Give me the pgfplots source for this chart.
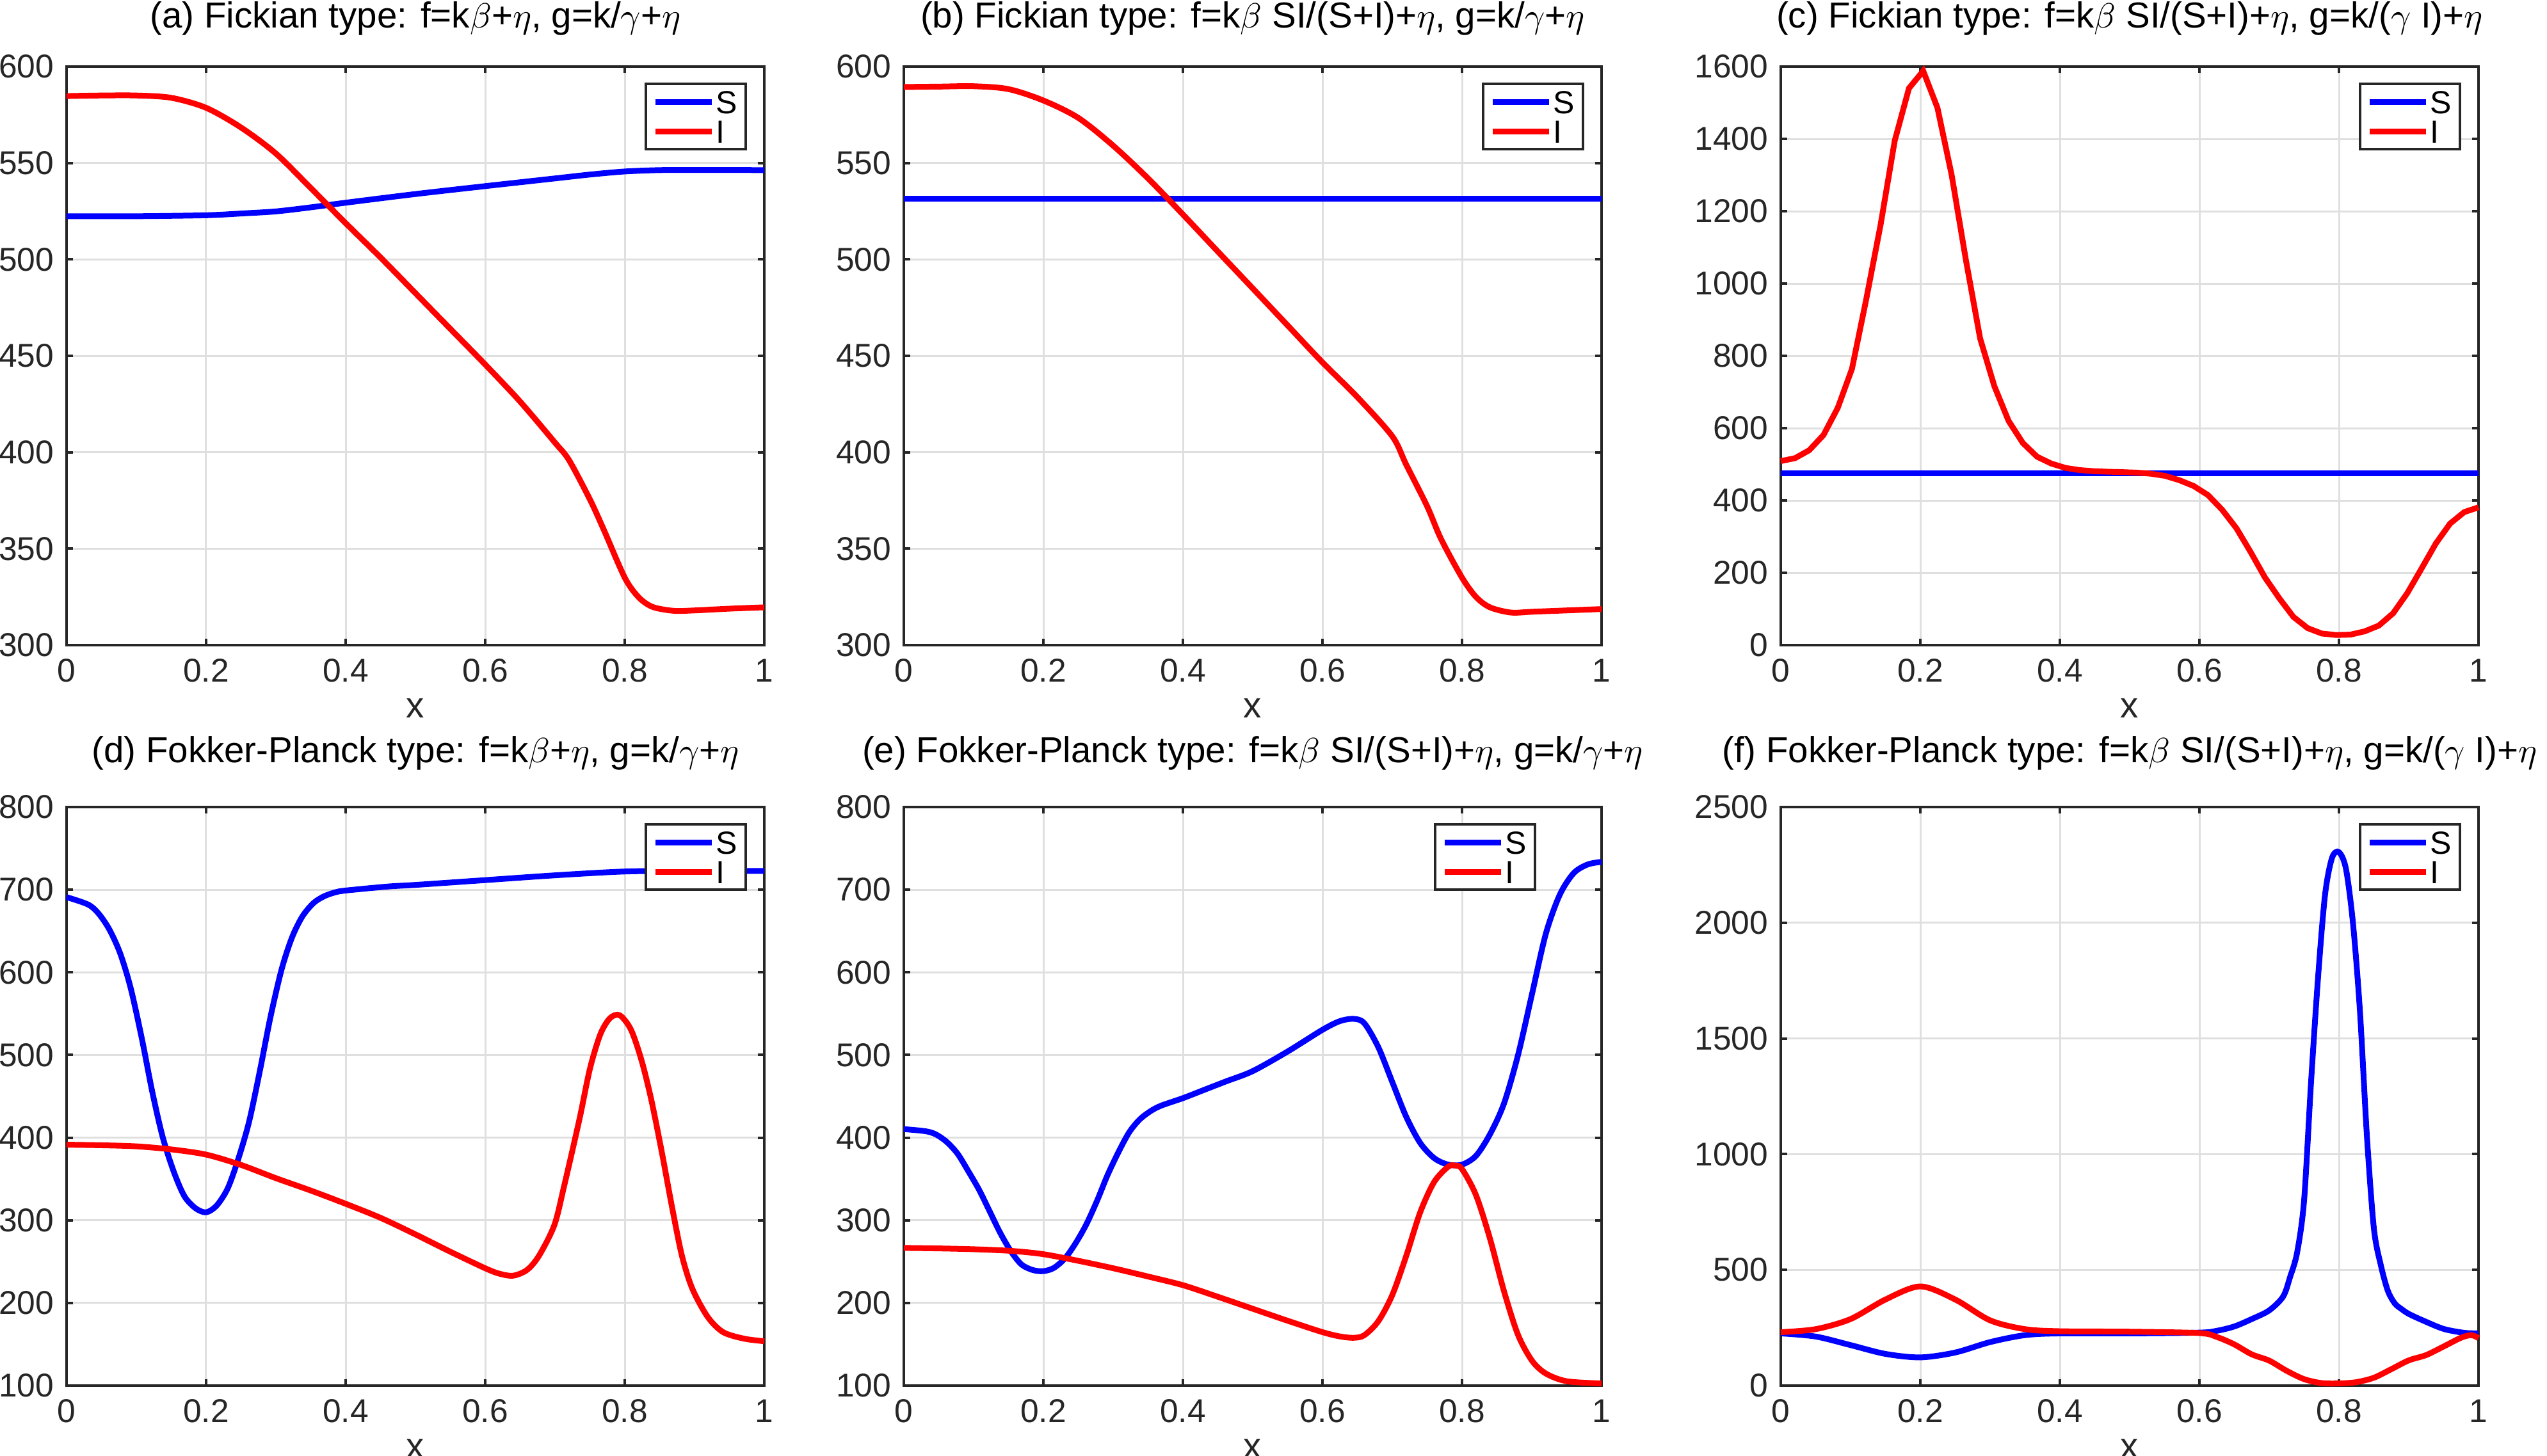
\documentclass[border=0pt]{standalone}
\usepackage{fontspec}
\setmainfont{Liberation Sans}
\usepackage{pgfplots}
\pgfplotsset{compat=1.18}
\definecolor{axgray}{RGB}{38,38,38}
\definecolor{gridgray}{RGB}{223,223,223}
\definecolor{mblue}{RGB}{0,0,255}
\definecolor{mred}{RGB}{255,0,0}
\pgfplotsset{
  every axis title shift=0pt,
  panel/.style={
    scale only axis, width=218pt, height=180.8pt, anchor=north west,
    xmin=0, xmax=1,
    xtick={0,0.2,0.4,0.6,0.8,1},
    xticklabels={0,0.2,0.4,0.6,0.8,1},
    grid=major, major grid style={gridgray, line width=0.6pt},
    axis line style={axgray, line width=0.8pt},
    every tick/.style={axgray, line width=0.8pt},
    major tick length=2pt, tick align=inside, tick pos=both,
    scaled y ticks=false,
    /pgf/number format/1000 sep={},
    /pgf/number format/assume math mode=true,
    tick label style={font=\fontsize{10.3}{12}\selectfont, text=axgray},
    xticklabel style={anchor=base, yshift=-11.5pt},
    yticklabel style={anchor=east, inner sep=0pt, xshift=-3.8pt},
    xlabel={x},
    xlabel style={at={(0.5,0)}, anchor=base, yshift=-22.6pt, font=\fontsize{11.3}{13}\selectfont, text=axgray},
    title style={at={(0.5,1)}, anchor=base, yshift=12.2pt, font=\fontsize{11.3}{13}\selectfont},
    clip=false,
    legend style={at={(1,1)}, anchor=north east, xshift=-5.5pt, yshift=-5pt,
      draw=axgray, line width=0.8pt, fill=white,
      font=\fontsize{10}{10}\selectfont, inner xsep=2pt, inner ysep=1pt,
      row sep=0pt,
      nodes={inner xsep=0.5pt, inner ysep=1pt, text height=7.2pt, text depth=0pt}},
    legend cell align=left,
    legend image code/.code={\draw[#1] (0pt,0pt) -- (17.6pt,0pt);},
    every axis plot/.append style={line width=1.8pt},
  },
  brow/.style={title style={yshift=1.8pt}},
}
\begin{document}
\begin{tikzpicture}
\path[use as bounding box] (0,0) rectangle (795.8pt,-455pt);
% (a)
\begin{axis}[panel, at={(20.8pt,-20.8pt)}, ymin=300, ymax=600, ytick={300,350,...,600},
  title={(a) Fickian type: f=k$\beta$+$\eta$, g=k/$\gamma$+$\eta$}]
\addplot[mblue, smooth] coordinates {(0,522.4) (0.1,522.4) (0.2,522.9) (0.25,523.8) (0.3,524.9) (0.35,527) (0.4,529.4) (0.5,533.9) (0.6,538) (0.7,542) (0.75,544) (0.8,545.6) (0.85,546.3) (0.9,546.4) (1,546.3)};
\addplot[mred, smooth] coordinates {(0,584.7) (0.05,585) (0.1,585) (0.15,583.8) (0.2,578.6) (0.25,568.4) (0.3,554.9) (0.35,537) (0.4,518.8) (0.45,501) (0.5,482.5) (0.55,464) (0.6,445.5) (0.65,426.3) (0.7,405) (0.72,396) (0.75,375.6) (0.77,359.8) (0.8,335) (0.82,324.8) (0.84,319.8) (0.87,317.8) (0.9,318) (0.95,318.9) (1,319.6)};
\legend{S,I}
\end{axis}
% (b)
\begin{axis}[panel, at={(282.4pt,-20.8pt)}, ymin=300, ymax=600, ytick={300,350,...,600},
  title={(b) Fickian type: f=k$\beta$ SI/(S+I)+$\eta$, g=k/$\gamma$+$\eta$}]
\addplot[mblue] coordinates {(0,531.4) (1,531.4)};
\addplot[mred, smooth] coordinates {(0,589.4) (0.05,589.6) (0.1,589.8) (0.15,588.3) (0.2,582.4) (0.25,573.4) (0.3,559) (0.35,542) (0.4,523.3) (0.45,504.1) (0.5,485) (0.55,465.8) (0.6,446.6) (0.65,428.6) (0.7,408.3) (0.72,393.6) (0.75,372) (0.77,355) (0.8,335) (0.82,325) (0.84,319.6) (0.87,316.9) (0.9,317.3) (0.95,318) (1,318.7)};
\legend{S,I}
\end{axis}
% (c)
\begin{axis}[panel, at={(556.4pt,-20.8pt)}, ymin=0, ymax=1600, ytick={0,200,...,1600},
  title={(c) Fickian type: f=k$\beta$ SI/(S+I)+$\eta$, g=k/($\gamma$ I)+$\eta$}]
\addplot[mblue] coordinates {(0,475) (1,475)};
\addplot[mred] coordinates {(0,509) (0.0204,517) (0.0408,539) (0.0612,581) (0.0816,656) (0.1020,764) (0.1224,956) (0.1429,1161) (0.1633,1395) (0.1837,1540) (0.2041,1588) (0.2245,1486) (0.2449,1300) (0.2653,1065) (0.2857,848) (0.3061,716) (0.3265,620) (0.3469,559) (0.3673,521) (0.3878,502) (0.4082,490) (0.4286,484) (0.4490,481) (0.4694,479.5) (0.4898,478.5) (0.5102,477) (0.5306,474) (0.5510,468) (0.5714,456) (0.5918,440) (0.6122,415) (0.6327,374) (0.6531,323) (0.6735,257) (0.6939,187) (0.7143,130) (0.7347,78) (0.7551,47) (0.7755,32) (0.7959,28) (0.8163,29) (0.8367,38) (0.8571,54) (0.8776,88) (0.8980,144) (0.9184,212) (0.9388,281) (0.9592,336) (0.9796,368) (1,381)};
\legend{S,I}
\end{axis}
% (d)
\begin{axis}[panel, brow, at={(20.8pt,-252.2pt)}, ymin=100, ymax=800, ytick={100,200,...,800},
  title={(d) Fokker-Planck type: f=k$\beta$+$\eta$, g=k/$\gamma$+$\eta$}]
\addplot[mblue, smooth] coordinates {(0,691) (0.031,682) (0.046,671) (0.0615,651.6) (0.077,622.6) (0.092,580.6) (0.108,519.4) (0.123,454.8) (0.138,400) (0.154,358) (0.169,329) (0.185,314.5) (0.2,309.7) (0.215,317.7) (0.231,338.7) (0.246,374) (0.2615,419) (0.277,480.6) (0.292,545) (0.308,603) (0.323,642) (0.338,667.7) (0.354,683.9) (0.369,692) (0.385,696.8) (0.4,699) (0.4615,703.9) (0.5,705.8) (0.6,711.6) (0.7,717.4) (0.8,722) (0.9,723) (1,722.6)};
\addplot[mred, smooth] coordinates {(0,391.5) (0.05,390.8) (0.1,389.5) (0.15,385.8) (0.2,379.5) (0.25,367) (0.3,351) (0.35,336) (0.4,320) (0.45,303) (0.5,283) (0.55,262) (0.6,242) (0.62,235.5) (0.64,233) (0.66,240) (0.677,257) (0.699,294) (0.713,341) (0.735,422) (0.75,483) (0.765,525) (0.779,544.7) (0.793,548) (0.809,530.5) (0.824,493.7) (0.838,446) (0.853,383) (0.868,315) (0.882,257) (0.897,217) (0.919,183) (0.941,164.7) (0.971,156.8) (1,153.7)};
\legend{S,I}
\end{axis}
% (e)
\begin{axis}[panel, brow, at={(282.4pt,-252.2pt)}, ymin=100, ymax=800, ytick={100,200,...,800},
  legend style={xshift=-15pt, yshift=0pt},
  title={(e) Fokker-Planck type: f=k$\beta$ SI/(S+I)+$\eta$, g=k/$\gamma$+$\eta$}]
\addplot[mblue, smooth] coordinates {(0,410.3) (0.031,407.8) (0.046,403.9) (0.0615,394.8) (0.077,380.6) (0.092,360) (0.108,336.7) (0.123,310.9) (0.138,285) (0.154,261.8) (0.169,246.3) (0.185,239.8) (0.2,238.5) (0.215,242.4) (0.231,254) (0.246,272) (0.2615,295) (0.277,323.8) (0.292,354.8) (0.308,383.2) (0.323,406.5) (0.338,422) (0.354,432.3) (0.369,438.8) (0.4,447.8) (0.431,458) (0.4615,468) (0.5,480.5) (0.55,504.2) (0.6,530.5) (0.625,541) (0.645,543.7) (0.66,538.4) (0.68,509.5) (0.7,467.4) (0.72,425.3) (0.74,393.7) (0.76,375.3) (0.78,367.4) (0.8,367.4) (0.82,378) (0.84,404) (0.86,441) (0.88,499) (0.9,572.6) (0.92,646.3) (0.94,693.7) (0.96,720) (0.98,730.5) (1,733.7)};
\addplot[mred, smooth] coordinates {(0,266.6) (0.05,266) (0.1,265) (0.154,263) (0.2,259) (0.25,251) (0.3,242) (0.35,232) (0.4,221.5) (0.45,207.5) (0.5,193) (0.55,178.5) (0.6,164.7) (0.625,159.5) (0.645,157.9) (0.66,161) (0.68,177.9) (0.7,209.5) (0.72,256.8) (0.74,309.5) (0.76,346.3) (0.78,364.7) (0.79,366.3) (0.8,362) (0.82,330.5) (0.84,278) (0.86,214.7) (0.88,162) (0.9,130.5) (0.92,114.7) (0.95,105.3) (1,102.6)};
\legend{S,I}
\end{axis}
% (f)
\begin{axis}[panel, brow, at={(556.4pt,-252.2pt)}, ymin=0, ymax=2500, ytick={0,500,...,2500},
  title={(f) Fokker-Planck type: f=k$\beta$ SI/(S+I)+$\eta$, g=k/($\gamma$ I)+$\eta$}]
\addplot[mblue, smooth] coordinates {(0,225.6) (0.05,212) (0.1,175) (0.15,137) (0.2,122) (0.25,143) (0.3,188) (0.35,218) (0.4,225.6) (0.5,225.6) (0.6,229) (0.625,237) (0.65,255.6) (0.675,287.6) (0.7,325) (0.72,385) (0.73,470) (0.74,575) (0.75,800) (0.76,1312) (0.77,1763) (0.78,2120) (0.79,2280) (0.8,2305) (0.81,2233) (0.82,2000) (0.83,1620) (0.84,1080) (0.85,680) (0.86,520) (0.87,410) (0.88,355) (0.89,330) (0.9,310) (0.92,282) (0.95,245) (0.98,228) (1,226)};
\addplot[mred, smooth] coordinates {(0,231) (0.05,244) (0.1,287.6) (0.15,372) (0.2,428.6) (0.25,372) (0.3,282) (0.35,244) (0.4,235) (0.5,233) (0.6,227) (0.625,210) (0.65,178) (0.675,135) (0.7,108) (0.725,64) (0.75,28) (0.775,11) (0.8,9.4) (0.825,15) (0.85,34) (0.875,71) (0.9,109) (0.925,132) (0.95,169) (0.975,207) (0.99,218) (1,205)};
\legend{S,I}
\end{axis}
\end{tikzpicture}
\end{document}
